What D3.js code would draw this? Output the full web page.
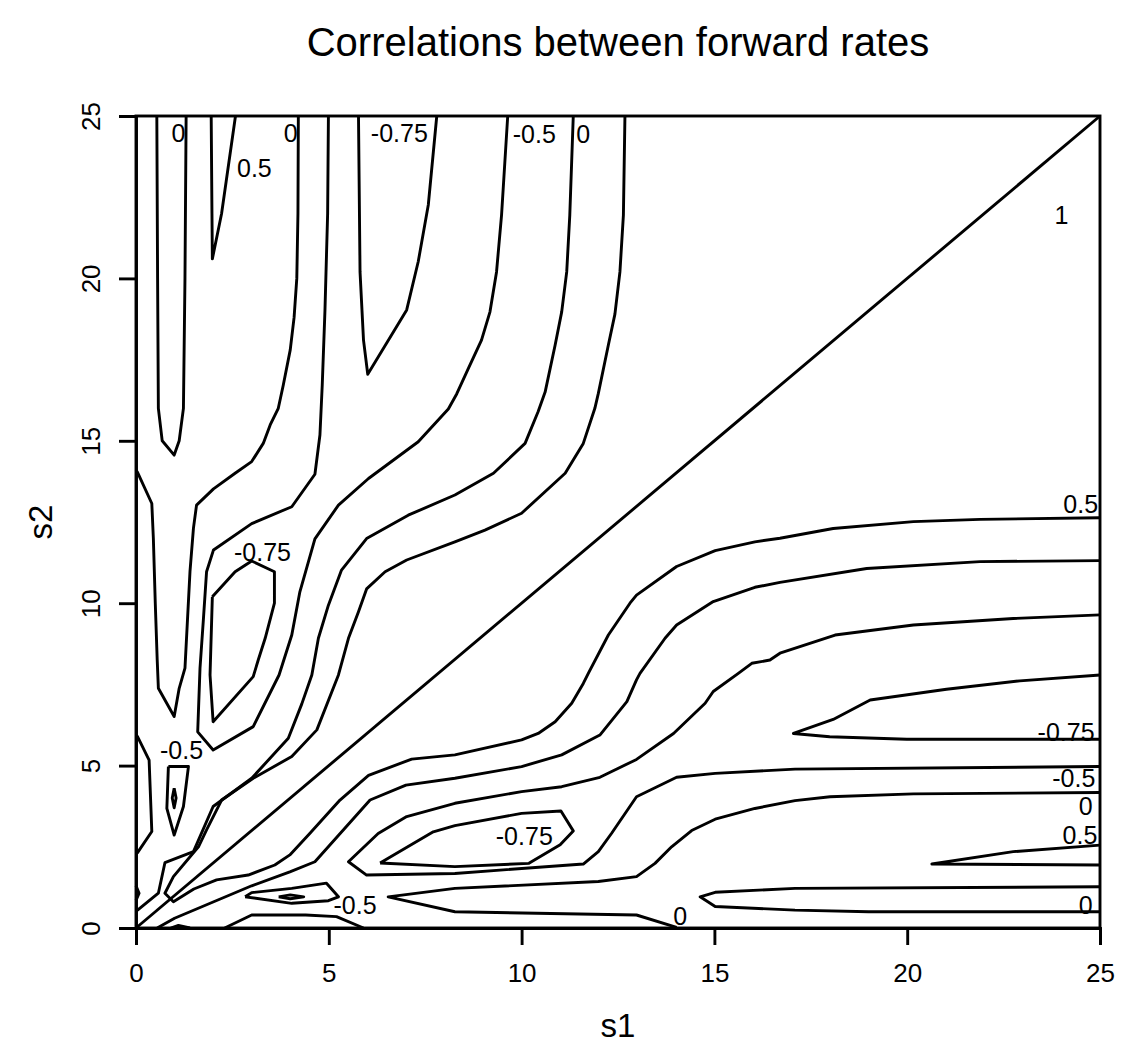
<!DOCTYPE html>
<html>
<head>
<meta charset="utf-8">
<script src="https://cdn.jsdelivr.net/npm/d3@7"></script>
<style>
  body { margin: 0; background: #fff; }
  text { font-family: "Liberation Sans", Arial, sans-serif; fill: #000; }
</style>
</head>
<body>
<svg id="chart" width="1121" height="1061"></svg>
<script>
const TITLE = "Correlations between forward rates";
const X_LABEL = "s1", Y_LABEL = "s2";
const X_TICKS = [0, 5, 10, 15, 20, 25];
const Y_TICKS = [0, 5, 10, 15, 20, 25];

// contour paths, [s1, s2] vertices
const lineOne = [[0, 0], [25, 25]];

// above the diagonal
const zeroU = [[0.54, 25], [0.56, 20], [0.58, 16], [0.68, 15], [0.99, 14.56], [1.12, 15], [1.23, 16], [1.27, 20], [1.30, 25]];
const halfV = [[1.95, 25], [1.97, 22], [1.98, 20.6], [2.22, 22], [2.34, 23], [2.46, 24], [2.58, 25]];
const zeroLeft = [[4.21, 25], [4.2, 22], [4.17, 20], [4.1, 18.8], [4.0, 17.8], [3.82, 16.72], [3.69, 16.0], [3.48, 15.49],
  [3.3, 14.92], [3.0, 14.36], [2.57, 14.0], [2.01, 13.52], [1.57, 13.02], [1.49, 12.31], [1.4, 10.97], [1.27, 8.0],
  [1.12, 7.38], [0.99, 6.51], [0.58, 7.38], [0.55, 8.25], [0.5, 10], [0.45, 12], [0.41, 13.07], [0.04, 14.03], [0, 14.1]];
const negHalfU = [[4.99, 25], [4.97, 22], [4.9, 19], [4.83, 16.72], [4.77, 15.18], [4.64, 13.97], [4.04, 12.97], [3.0, 12.45],
  [2.01, 11.64], [1.83, 10.97], [1.75, 9.54], [1.66, 8.0], [1.6, 6.04], [2.0, 5.48], [3.04, 6.2], [3.71, 7.79], [4.04, 9.02],
  [4.25, 10.35], [4.64, 11.98], [5.25, 13.02], [6.03, 13.84], [7.32, 14.97], [8.10, 15.98], [8.32, 16.45], [8.62, 17.23],
  [8.96, 18.1], [9.18, 18.97], [9.35, 20.2], [9.48, 21.95], [9.64, 25]];
const negTqV = [[5.77, 25], [5.81, 20.2], [5.9, 18.1], [6.01, 17.05], [7.02, 19.03], [7.32, 20.52], [7.58, 22.26], [7.8, 25]];
const negTqLoop = [[1.98, 10.2], [2.57, 10.97], [3.0, 11.3], [3.59, 10.97], [3.59, 10.0], [3.35, 8.92], [3.17, 8.25], [3.04, 7.74],
  [2.0, 6.35], [1.92, 7.79], [1.98, 10.2]];
const zeroUpper = [[11.34, 25], [11.25, 21.95], [11.17, 20.2], [11.04, 18.97], [10.87, 17.95], [10.61, 16.5], [10.43, 15.9],
  [10.09, 14.92], [9.27, 14.0], [8.27, 13.33], [7.06, 12.71], [5.98, 11.99], [5.33, 11.02], [4.99, 9.94], [4.73, 8.92],
  [4.56, 7.79], [4.3, 6.9], [3.95, 5.84], [3.0, 4.61], [2.0, 3.74], [1.49, 2.35], [0.75, 2.01], [0.58, 1.07], [0.04, 0.55], [0, 0.52]];
// the 0.5 line runs down the upper side, turns near the origin and goes out along the lower side
const halfUpper = [[12.68, 25], [12.64, 21.95], [12.55, 20.2], [12.42, 18.9], [12.25, 17.95], [11.99, 16.46], [11.9, 16.0],
  [11.6, 14.92], [11.13, 14.0], [10.0, 12.77], [9.05, 12.25], [8.27, 11.89], [7.02, 11.33], [6.46, 10.97], [5.98, 10.44],
  [5.77, 9.74], [5.51, 8.92], [5.25, 7.79], [4.69, 6.1], [4.04, 5.28], [3.04, 4.61], [2.22, 3.94], [1.83, 3.02], [1.62, 2.5],
  [0.97, 1.58], [0.75, 1.07]];
const halfLower = [[0.97, 0.81], [1.5, 1.2], [2.09, 1.48], [2.91, 1.63], [3.6, 1.94], [3.99, 2.25], [4.5, 2.9], [5.29, 3.94],
  [6.03, 4.7], [7.15, 5.2], [8.27, 5.33], [10.0, 5.79], [10.43, 5.99], [10.87, 6.35], [11.3, 6.92], [11.6, 7.53], [11.73, 7.84],
  [12.25, 9.02], [12.81, 10.0], [12.98, 10.25], [14.02, 11.13], [15.02, 11.62], [16.05, 11.89], [16.7, 12.0], [18.08, 12.3],
  [20.16, 12.51], [21.89, 12.58], [25, 12.63]];

// below the diagonal
const zeroLower = [[25, 11.31], [21.89, 11.28], [18.95, 11.07], [16.7, 10.64], [16.05, 10.49], [14.97, 10.05], [14.02, 9.33],
  [13.72, 8.92], [13.07, 7.84], [12.98, 7.64], [12.73, 6.97], [12.03, 5.94], [11.04, 5.33], [10.0, 4.97], [8.27, 4.61],
  [7.0, 4.4], [6.07, 3.94], [4.64, 2.04], [3.99, 1.73], [3.0, 1.3], [2.0, 0.8], [1.0, 0.3], [0.55, 0]];
const zeroRightV = [[14.02, 0.02], [12.98, 0.4], [8.27, 0.5], [6.54, 0.96], [8.27, 1.22], [11.99, 1.43], [12.98, 1.58], [13.46, 1.99],
  [13.89, 2.5], [14.41, 3.0], [15.02, 3.35], [16.05, 3.68], [17.09, 3.92], [18.0, 4.04], [20.16, 4.13], [25, 4.17]];
const negHalfV = [[25, 9.64], [22.75, 9.53], [20.16, 9.33], [18.13, 9.02], [16.7, 8.46], [16.44, 8.25], [15.97, 8.15], [15.62, 7.84],
  [14.97, 7.28], [14.76, 6.92], [13.94, 5.99], [12.98, 5.19], [12.03, 4.64], [11.04, 4.35], [10.0, 4.2], [8.27, 3.84],
  [7.02, 3.43], [6.28, 2.91], [5.51, 2.04], [5.98, 1.63], [8.27, 1.68], [11.6, 1.97], [11.99, 2.35], [12.33, 2.91],
  [12.98, 4.04], [14.02, 4.64], [15.02, 4.76], [17.09, 4.89], [25, 4.97]];
const negTqLoopLow = [[6.33, 2.0], [7.71, 2.96], [8.27, 3.15], [10.0, 3.53], [11.02, 3.6], [11.34, 2.99], [11.0, 2.56], [10.19, 1.99],
  [8.27, 1.89], [6.33, 2.0]];
const negTqVRight = [[25, 7.79], [22.92, 7.61], [21.02, 7.35], [19.04, 7.02], [18.08, 6.42], [17.05, 5.99], [17.99, 5.89], [19.99, 5.81], [25, 5.81]];
const halfVRight = [[25, 2.55], [22.75, 2.35], [20.64, 1.97], [25, 1.94]];
const zeroVRight = [[25, 1.27], [17.09, 1.22], [15.02, 1.1], [14.63, 0.96], [15.02, 0.66], [17.09, 0.55], [19.0, 0.5], [25, 0.5]];

// small pieces near the origin
const leftBump = [[0, 5.95], [0.04, 5.89], [0.34, 5.17], [0.41, 2.97], [0.04, 2.32], [0, 2.28]];
const loopNearOne = [[0.84, 4.97], [1.36, 4.97], [1.23, 3.74], [0.99, 2.86], [0.8, 3.68], [0.84, 4.97]];
const dotNearOne = [[0.99, 4.3], [1.04, 4.0], [0.99, 3.7], [0.94, 4.0], [0.99, 4.3]];
const loopNearFour = [[2.83, 0.96], [3.0, 1.09], [4.04, 1.22], [4.94, 1.38], [5.25, 0.96], [4.99, 0.84], [4.04, 0.76], [2.83, 0.96]];
const dotNearFour = [[3.7, 0.96], [4.0, 1.02], [4.35, 0.96], [4.0, 0.9], [3.7, 0.96]];
const bottomBump = [[2.3, 0], [3.0, 0.4], [4.4, 0.4], [5.2, 0.35], [5.9, 0]];
const tinyBump = [[0.9, 0], [1.1, 0.08], [1.4, 0]];
const tinyLeft = [[0, 1.3], [0.08, 1.07], [0, 0.85]];

const contourPaths = [lineOne, zeroU, halfV, zeroLeft, negHalfU, negTqV, negTqLoop, zeroUpper,
  halfUpper.concat(halfLower), zeroLower, zeroRightV, negHalfV, negTqLoopLow, negTqVRight, halfVRight, zeroVRight,
  leftBump, loopNearOne, dotNearOne, loopNearFour, dotNearFour, bottomBump, tinyBump, tinyLeft];

// contour labels: text and centre in data units
const labelText = ["0", "0.5", "0", "-0.75", "-0.5", "0", "1", "0.5", "-0.75", "-0.5", "-0.5", "-0.75", "0",
  "-0.75", "-0.5", "0", "0.5", "0"];
const labelS1 = [1.10, 3.07, 4.01, 6.83, 10.33, 11.6, 24.0, 24.5, 3.28, 1.18, 5.68, 10.07, 14.11,
  24.12, 24.32, 24.63, 24.48, 24.63];
const labelS2 = [24.49, 23.39, 24.49, 24.49, 24.46, 24.46, 21.95, 13.05, 11.59, 5.48, 0.71, 2.83, 0.38,
  6.04, 4.61, 3.76, 2.86, 0.71];

const plot = { left: 136, right: 1100, top: 116, bottom: 928 };
const lw = 2.9;

const svg = d3.select("#chart");
const x = d3.scaleLinear().domain([0, 25]).range([plot.left, plot.right]);
const y = d3.scaleLinear().domain([0, 25]).range([plot.bottom, plot.top]);

const line = d3.line().x(d => x(d[0])).y(d => y(d[1]));

// contour lines
svg.append("g")
  .selectAll("path")
  .data(contourPaths)
  .join("path")
    .attr("d", line)
    .attr("fill", "none")
    .attr("stroke", "#000")
    .attr("stroke-width", lw)
    .attr("stroke-linejoin", "round");

// contour labels
svg.append("g")
  .selectAll("text")
  .data(labelText)
  .join("text")
    .attr("x", (d, i) => x(labelS1[i]))
    .attr("y", (d, i) => y(labelS2[i]))
    .attr("text-anchor", "middle")
    .attr("dominant-baseline", "central")
    .attr("font-size", 25)
    .text(d => d);

// axes (R style: tick labels one line out, y labels turned)
const xAxis = svg.append("g")
  .attr("transform", `translate(0,${plot.bottom})`)
  .call(d3.axisBottom(x).tickValues(X_TICKS).tickSize(17).tickPadding(19));
const yAxis = svg.append("g")
  .attr("transform", `translate(${plot.left},0)`)
  .call(d3.axisLeft(y).tickValues(Y_TICKS).tickSize(17).tickPadding(20));

for (const g of [xAxis, yAxis]) {
  g.select(".domain").attr("stroke-width", lw);
  g.selectAll(".tick line").attr("stroke-width", lw);
  g.selectAll(".tick text")
    .attr("font-size", 26)
    .attr("font-family", "Liberation Sans, Arial, sans-serif")
    .attr("fill", "#000");
}
yAxis.selectAll(".tick text")
  .attr("x", 0)
  .attr("dy", 0)
  .attr("text-anchor", "middle")
  .attr("transform", "translate(-36,0) rotate(-90)");

// box
svg.append("rect")
  .attr("x", plot.left).attr("y", plot.top)
  .attr("width", plot.right - plot.left).attr("height", plot.bottom - plot.top)
  .attr("fill", "none").attr("stroke", "#000").attr("stroke-width", lw);

// titles
svg.append("text")
  .attr("x", (plot.left + plot.right) / 2).attr("y", 42)
  .attr("text-anchor", "middle").attr("dominant-baseline", "central")
  .attr("font-size", 40).text(TITLE);
svg.append("text")
  .attr("x", (plot.left + plot.right) / 2).attr("y", 1025)
  .attr("text-anchor", "middle").attr("dominant-baseline", "central")
  .attr("font-size", 33).text(X_LABEL);
svg.append("text")
  .attr("transform", `translate(40,${(plot.top + plot.bottom) / 2}) rotate(-90)`)
  .attr("text-anchor", "middle").attr("dominant-baseline", "central")
  .attr("font-size", 33).text(Y_LABEL);
</script>
</body>
</html>
